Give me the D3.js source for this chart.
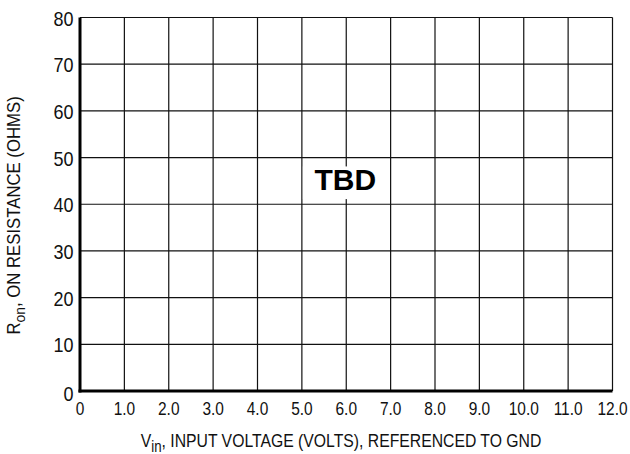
<!DOCTYPE html>
<html><head><meta charset="utf-8">
<script src="https://cdn.jsdelivr.net/npm/d3@7"></script>
<style>body{margin:0;background:#fff}svg{display:block;font-family:"Liberation Sans",Arial,sans-serif}</style>
</head><body>
<svg id="c" width="630" height="454"></svg>
<script>
const xTicks = [0,1,2,3,4,5,6,7,8,9,10,11,12];
const xTickLabels = ["0","1.0","2.0","3.0","4.0","5.0","6.0","7.0","8.0","9.0","10.0","11.0","12.0"];
const yTicks = [0,10,20,30,40,50,60,70,80];
const annotation = "TBD";

const svg = d3.select("#c");
const m = {l:80, r:17.5, t:17.5, b:63};
const W = 630, H = 454;
const x = d3.scaleLinear().domain([0,12]).range([m.l, W-m.r]);
const y = d3.scaleLinear().domain([0,80]).range([H-m.b, m.t]);

const g = svg.append("g");
// grid
g.selectAll("line.vx").data(xTicks.slice(1)).join("line")
  .attr("x1",d=>x(d)).attr("x2",d=>x(d)).attr("y1",y(0)).attr("y2",y(80))
  .attr("stroke","#111").attr("stroke-width",1.2);
g.selectAll("line.hy").data(yTicks.slice(1)).join("line")
  .attr("x1",x(0)).attr("x2",x(12)).attr("y1",d=>y(d)).attr("y2",d=>y(d))
  .attr("stroke","#111").attr("stroke-width",1.2);

// axes thick
g.append("line").attr("x1",x(0)).attr("x2",x(0)).attr("y1",y(0)+1.5).attr("y2",y(80)).attr("stroke","#000").attr("stroke-width",3);
g.append("line").attr("x1",x(0)-1.5).attr("x2",x(12)).attr("y1",y(0)).attr("y2",y(0)).attr("stroke","#000").attr("stroke-width",3);

// tick labels (condensed)
g.selectAll("g.xl").data(xTicks).join("g")
  .attr("transform",d=>`translate(${x(d)},${y(0)+24}) scale(0.86,1)`)
  .append("text").attr("text-anchor","middle")
  .attr("font-size",18).attr("fill","#111").text((d,i)=>xTickLabels[i]);
g.selectAll("g.yl").data(yTicks).join("g")
  .attr("transform",d=>`translate(${x(0)-6.5},${y(d)+(d===0?10:8)}) scale(0.9,1)`)
  .append("text").attr("text-anchor","end")
  .attr("font-size",20).attr("fill","#111").text(d=>d);

// TBD box
const bx0 = x(5)+1, bx1 = x(7)-1, by0 = y(48.1), by1 = y(41.1);
g.append("rect").attr("x",bx0).attr("y",by0).attr("width",bx1-bx0).attr("height",by1-by0).attr("fill","#fff");
g.append("text").attr("x",(bx0+bx1)/2-1).attr("y",189.5).attr("text-anchor","middle")
  .attr("font-size",30).attr("font-weight","bold").attr("fill","#000").text(annotation);

// x title
const xt = svg.append("g").attr("transform",`translate(341,447) scale(0.83,1)`)
  .append("text").attr("text-anchor","middle").attr("font-size",19).attr("fill","#111");
xt.append("tspan").text("V");
xt.append("tspan").attr("dy",5).attr("font-size",16).text("in");
xt.append("tspan").attr("dy",-5).text(", INPUT VOLTAGE (VOLTS), REFERENCED TO GND");

// y title
const yt = svg.append("g").attr("transform",`translate(20,${y(37.6)}) rotate(-90) scale(0.93,1)`)
  .append("text").attr("text-anchor","middle").attr("font-size",18).attr("fill","#111");
yt.append("tspan").text("R");
yt.append("tspan").attr("dy",5).attr("font-size",15).text("on");
yt.append("tspan").attr("dy",-5).text(", ON RESISTANCE (OHMS)");
</script>
</body></html>
